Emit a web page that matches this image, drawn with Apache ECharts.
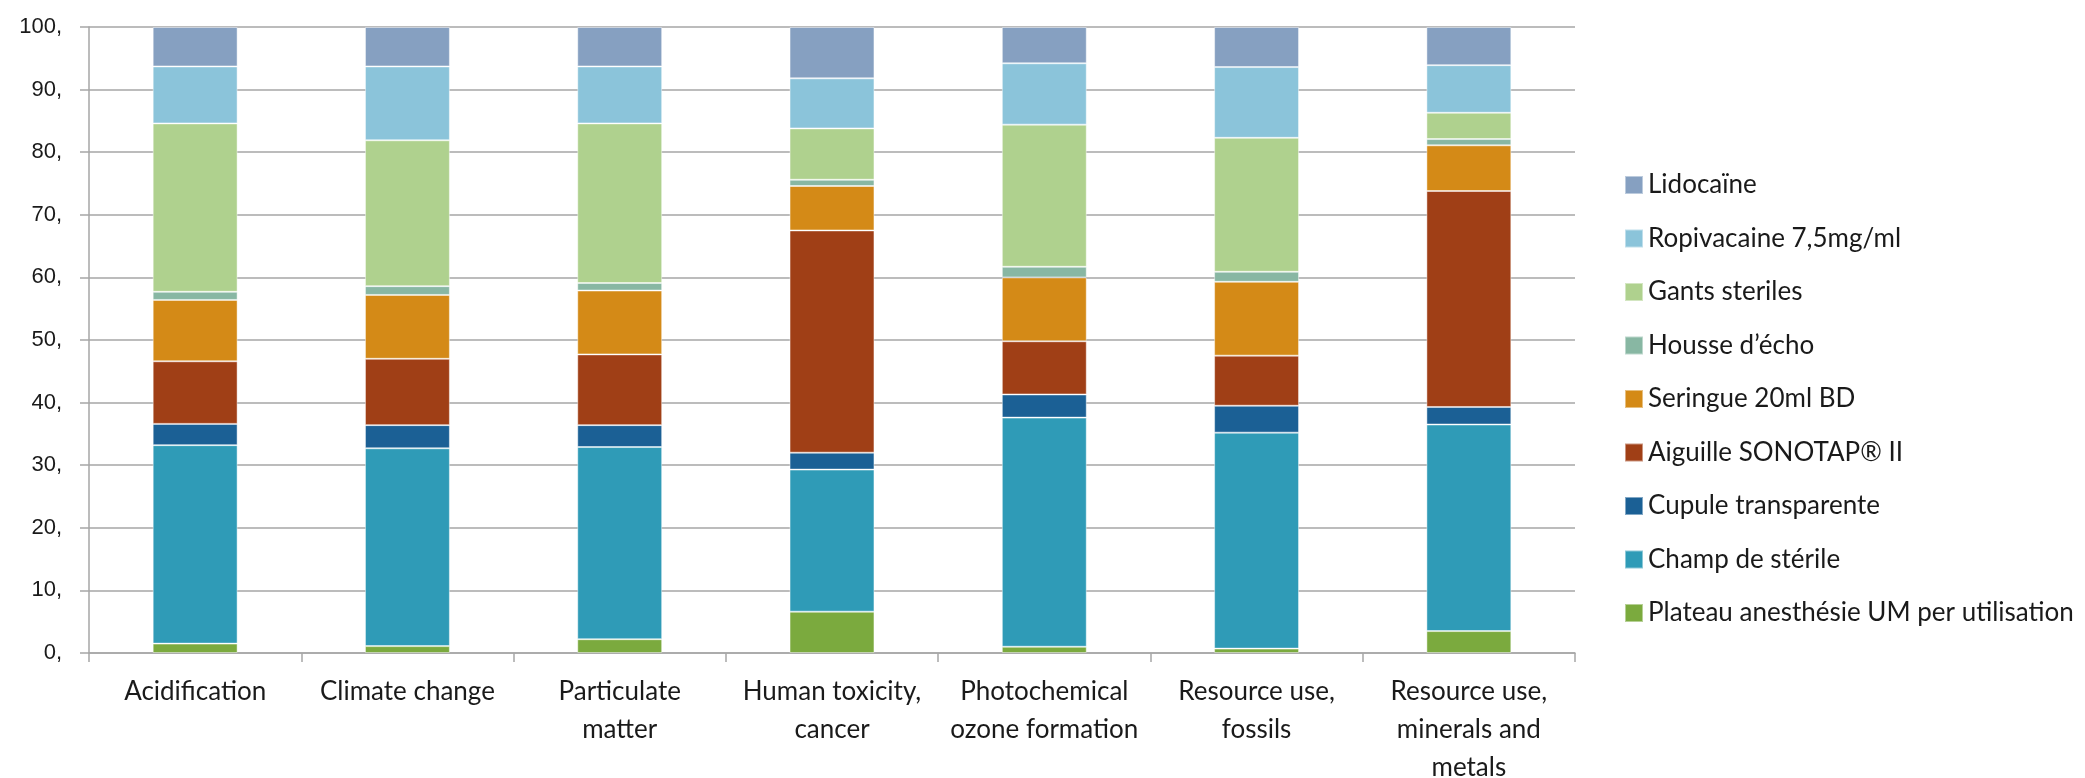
<!DOCTYPE html>
<html>
<head>
<meta charset="utf-8">
<script src="https://cdn.jsdelivr.net/npm/echarts@6/dist/echarts.min.js"></script>
<style>
  html, body { margin: 0; padding: 0; background: #ffffff; }
  #chart { width: 2085px; height: 778px; }
</style>
</head>
<body>
<div id="chart"></div>
<script>
// Impact categories (x axis)
const categories = [
  'Acidification',
  'Climate change',
  'Particulate\nmatter',
  'Human toxicity,\ncancer',
  'Photochemical\nozone formation',
  'Resource use,\nfossils',
  'Resource use,\nminerals and\nmetals'
];

// Share of each item per category (%), stacked bottom to top
const plateau  = [1.5, 1.1, 2.2, 6.6, 1.0, 0.7, 3.5];
const champ    = [31.7, 31.6, 30.7, 22.7, 36.6, 34.5, 33.0];
const cupule   = [3.4, 3.7, 3.5, 2.7, 3.7, 4.3, 2.8];
const aiguille = [10.0, 10.6, 11.3, 35.5, 8.5, 8.0, 34.5];
const seringue = [9.8, 10.2, 10.2, 7.1, 10.2, 11.8, 7.3];
const housse   = [1.3, 1.4, 1.2, 1.0, 1.7, 1.6, 1.0];
const gants    = [26.9, 23.3, 25.5, 8.2, 22.7, 21.4, 4.2];
const ropi     = [9.1, 11.8, 9.1, 8.0, 9.8, 11.3, 7.6];
const lido     = [6.3, 6.3, 6.3, 8.2, 5.8, 6.4, 6.1];

// Y axis tick values
const yTicks = [0, 10, 20, 30, 40, 50, 60, 70, 80, 90, 100];

const seriesDefs = [
  { name: 'Plateau anesthésie UM per utilisation', data: plateau,  color: '#7BAA3E' },
  { name: 'Champ de stérile',                      data: champ,    color: '#2F9BB7' },
  { name: 'Cupule transparente',                   data: cupule,   color: '#1B6095' },
  { name: 'Aiguille SONOTAP® II',                  data: aiguille, color: '#A03F16' },
  { name: 'Seringue 20ml BD',                      data: seringue, color: '#D48A17' },
  { name: 'Housse d’écho',                         data: housse,   color: '#88B7A3' },
  { name: 'Gants steriles',                        data: gants,    color: '#AFD18E' },
  { name: 'Ropivacaine 7,5mg/ml',                  data: ropi,     color: '#8BC4DA' },
  { name: 'Lidocaïne',                             data: lido,     color: '#86A0C1' }
];

const gridColor = '#A6A6A6';
const textFont = 'Lato, "Noto Sans", sans-serif';

const chart = echarts.init(document.getElementById('chart'), null, { renderer: 'canvas' });

chart.setOption({
  animation: false,
  backgroundColor: '#ffffff',
  grid: {
    left: 89, top: 27, width: 1486, height: 626,
    containLabel: false,
    outerBoundsMode: 'none'
  },
  legend: {
    orient: 'vertical',
    left: 1619,
    top: 167,
    itemWidth: 18,
    itemHeight: 18,
    itemGap: 27.5,
    icon: 'rect',
    data: seriesDefs.map(s => s.name).reverse(),
    textStyle: { fontFamily: textFont, fontSize: 26, color: '#1a1a1a', lineHeight: 26, padding: [0, 0, 0, 0] }
  },
  xAxis: {
    type: 'category',
    data: categories,
    axisLine: { show: true, lineStyle: { color: gridColor, width: 1.5 } },
    axisTick: { show: true, length: 9, lineStyle: { color: gridColor, width: 1.5 } },
    axisLabel: {
      interval: 0,
      margin: 20,
      fontFamily: textFont,
      fontSize: 26,
      lineHeight: 38,
      color: '#1a1a1a'
    },
    splitLine: { show: false }
  },
  yAxis: {
    type: 'value',
    min: yTicks[0],
    max: yTicks[yTicks.length - 1],
    interval: 10,
    axisLine: { show: true, lineStyle: { color: gridColor, width: 1.5 } },
    axisTick: { show: true, length: 9, lineStyle: { color: gridColor, width: 1.5 } },
    axisLabel: {
      margin: 27,
      fontFamily: '"Liberation Sans", Arial, sans-serif',
      fontSize: 22,
      color: '#1a1a1a',
      formatter: v => v + ','
    },
    splitLine: { show: true, lineStyle: { color: gridColor, width: 1.5 } }
  },
  series: seriesDefs.map(s => ({
    name: s.name,
    type: 'bar',
    stack: 'total',
    barWidth: '40%',
    data: s.data,
    itemStyle: { color: s.color, borderColor: 'rgba(255,255,255,0.45)', borderWidth: 1 }
  }))
});
</script>
</body>
</html>
